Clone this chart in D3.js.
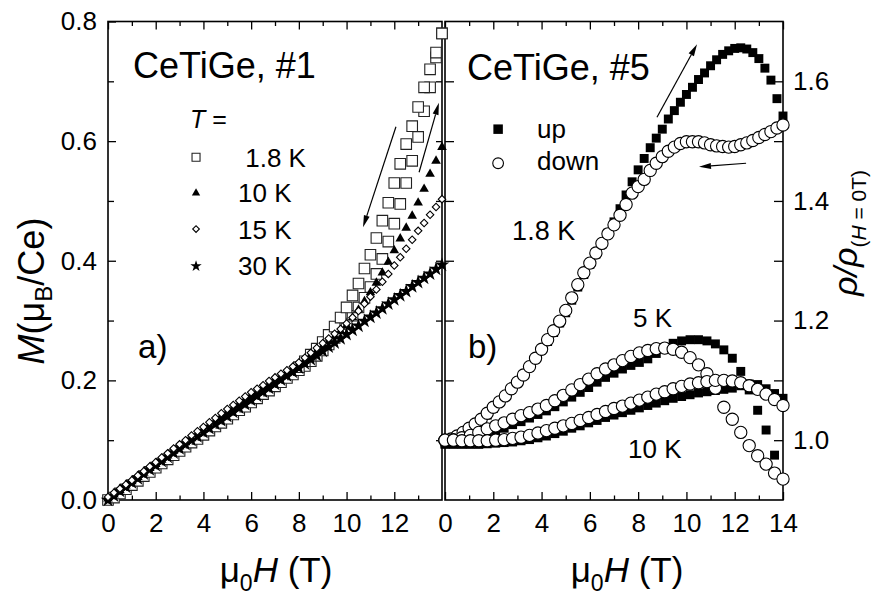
<!DOCTYPE html>
<html>
<head>
<meta charset="utf-8">
<script src="https://cdn.jsdelivr.net/npm/d3@7"></script>
<style>
  body { margin: 0; background: #fff; }
  text { font-family: "Liberation Sans", Arial, sans-serif; fill: #000; }
</style>
</head>
<body>
<div id="chart"></div>
<script>
// ---- data ----
// panel a) magnetisation M (muB/Ce) vs field (T), measured every 0.25 T
var fieldA = d3.range(0, 14.001, 0.25);
var fieldA18down = d3.range(8, 14.001, 0.25);
var m18up = [0.000,0.004,0.011,0.018, 0.025,0.032,0.040,0.047, 0.054,0.061,0.068,0.075,
  0.082,0.089,0.096,0.102, 0.109,0.116,0.123,0.129, 0.136,0.143,0.150,0.156,
  0.163,0.170,0.177,0.183, 0.190,0.197,0.204,0.210, 0.217,0.224,0.232,0.241,
  0.250,0.260,0.271,0.283, 0.295,0.308,0.322,0.338, 0.356,0.378,0.403,0.432,
  0.462,0.495,0.530,0.567, 0.607,0.650,0.690,0.740, 0.780];
var m18down = [0.222,0.232,0.243,0.253, 0.264,0.276,0.290,0.305, 0.322,0.342,0.362,0.387,
  0.410,0.438,0.467,0.497, 0.530,0.562,0.595,0.625, 0.657,0.690,0.720,0.748, 0.780];
var m10 = [0.002,0.009,0.016,0.024, 0.031,0.038,0.045,0.053, 0.060,0.067,0.074,0.082,
  0.089,0.096,0.103,0.111, 0.118,0.125,0.132,0.140, 0.147,0.154,0.161,0.168,
  0.175,0.181,0.188,0.194, 0.201,0.207,0.214,0.220, 0.227,0.234,0.242,0.249,
  0.257,0.265,0.273,0.282, 0.292,0.305,0.318,0.332, 0.347,0.363,0.380,0.398,
  0.417,0.437,0.455,0.475, 0.497,0.520,0.545,0.567, 0.590];
var m15 = [0.005,0.012,0.019,0.026, 0.033,0.041,0.048,0.056, 0.063,0.071,0.078,0.086,
  0.093,0.100,0.108,0.115, 0.122,0.130,0.137,0.145, 0.152,0.159,0.166,0.173,
  0.180,0.186,0.192,0.199, 0.205,0.211,0.217,0.223, 0.230,0.238,0.246,0.254,
  0.262,0.270,0.278,0.286, 0.295,0.305,0.316,0.328, 0.340,0.352,0.365,0.378,
  0.392,0.406,0.420,0.435, 0.450,0.463,0.477,0.490, 0.503];
var m30 = [0.000,0.007,0.015,0.022, 0.029,0.036,0.044,0.051, 0.058,0.065,0.072,0.079,
  0.086,0.093,0.100,0.106, 0.113,0.120,0.127,0.133, 0.140,0.147,0.154,0.160,
  0.167,0.174,0.181,0.187, 0.194,0.201,0.208,0.214, 0.221,0.228,0.235,0.242,
  0.249,0.256,0.263,0.270, 0.277,0.284,0.291,0.299, 0.306,0.313,0.320,0.328,
  0.335,0.342,0.349,0.357, 0.364,0.371,0.378,0.386, 0.393];

// panel b) rho / rho(H=0), 1.8 K every 0.25 T, 5 K and 10 K every 0.35 T
var fieldB18 = d3.range(0, 14.001, 0.25);
var fieldB = d3.range(0, 14.001, 0.35);
var r18up = [0.998,1.000,1.005,1.011, 1.018,1.026,1.033,1.042, 1.053,1.063,1.073,1.085,
  1.096,1.109,1.122,1.136, 1.151,1.165,1.180,1.196, 1.213,1.234,1.256,1.277,
  1.294,1.311,1.328,1.346, 1.365,1.387,1.410,1.432, 1.452,1.471,1.489,1.505,
  1.520,1.537,1.551,1.565, 1.578,1.590,1.603,1.614, 1.626,1.636,1.645,1.651,
  1.655,1.656,1.654,1.648, 1.638,1.622,1.602,1.571, 1.542];
var r18down = [1.000,1.002,1.007,1.013, 1.020,1.027,1.035,1.045, 1.055,1.064,1.074,1.086,
  1.097,1.109,1.123,1.137, 1.152,1.168,1.183,1.199, 1.217,1.238,1.260,1.280,
  1.296,1.313,1.329,1.345, 1.360,1.376,1.394,1.413, 1.424,1.436,1.451,1.463,
  1.474,1.483,1.490,1.496, 1.499,1.499,1.499,1.497, 1.494,1.492,1.491,1.490,
  1.491,1.494,1.497,1.501, 1.506,1.511,1.516,1.522, 1.527];
var r5up = [0.995,0.996,0.998,1.001,1.005,1.010,1.015,1.020,1.026,1.031,
  1.037,1.043,1.049,1.056,1.064,1.072,1.080,1.088,1.097,1.105,
  1.112,1.119,1.125,1.130,1.136,1.145,1.155,1.162,1.166,1.168,
  1.168,1.166,1.161,1.151,1.137,1.115,1.084,1.050,1.017,0.975];
var r5down = [1.000,1.001,1.004,1.008,1.013,1.019,1.024,1.029,1.035,1.041,
  1.046,1.052,1.058,1.066,1.075,1.084,1.093,1.102,1.111,1.119,
  1.126,1.133,1.140,1.146,1.150,1.153,1.154,1.152,1.147,1.138,
  1.126,1.111,1.087,1.055,1.035,1.013,0.991,0.974,0.960,0.945, 0.935];
var r10up = [0.993,0.993,0.993,0.993,0.993,0.994,0.995,0.996,0.997,0.999,
  1.001,1.004,1.007,1.011,1.015,1.020,1.024,1.029,1.033,1.038,
  1.042,1.046,1.050,1.054,1.058,1.062,1.066,1.070,1.073,1.076,
  1.079,1.081,1.083,1.085,1.087,1.091,1.094,1.093,1.086,1.078, 1.070];
var r10down = [1.000,1.000,0.999,0.999,0.999,0.999,1.000,1.001,1.003,1.005,
  1.008,1.012,1.016,1.020,1.024,1.028,1.033,1.038,1.043,1.048,
  1.053,1.057,1.062,1.067,1.072,1.077,1.081,1.086,1.090,1.094,
  1.096,1.098,1.100,1.100,1.099,1.096,1.091,1.085,1.077,1.068, 1.058];

var legendA = ["\u00a01.8 K", "10 K", "15 K", "30 K"];
var xTicksA = [0, 2, 4, 6, 8, 10, 12];
var xTicksB = [0, 2, 4, 6, 8, 10, 12, 14];
var yTicksA = [0, 0.2, 0.4, 0.6, 0.8];
var yTicksB = [1.0, 1.2, 1.4, 1.6];

// ---- drawing ----
var svg = d3.select("#chart").append("svg")
  .attr("width", 874).attr("height", 596)
  .style("background", "#fff");

var xA = d3.scaleLinear().domain([0, 14]).range([108, 442]);
var yA = d3.scaleLinear().domain([0, 0.8]).range([500, 21.5]);
var xB = d3.scaleLinear().domain([0, 14]).range([445, 783]);
var yB = d3.scaleLinear().domain([0.9, 1.7]).range([500, 21.5]);

var FONT = "'Liberation Sans', Arial, sans-serif";
var blank = function() { return ""; };

function addAxis(maker, scale, pos, values, size, fmt, pad) {
  var ax = maker(scale).tickValues(values).tickSizeInner(size).tickSizeOuter(0)
    .tickPadding(pad || 0).tickFormat(fmt || blank);
  var g = svg.append("g").attr("transform", pos).call(ax)
    .attr("font-family", FONT).attr("font-size", 26);
  g.select(".domain").remove();
  g.selectAll("line").attr("stroke", "#000").attr("stroke-width", 1.3);
  g.selectAll("text").attr("fill", "#000");
  return g;
}

var odd = [1, 3, 5, 7, 9, 11, 13];
var f1 = d3.format(".1f");
var nf = function(d) { return d; };

// panel a axes
addAxis(d3.axisBottom, xA, "translate(0,500)", xTicksA, -8, nf, 14);
addAxis(d3.axisBottom, xA, "translate(0,500)", odd, -4.5);
addAxis(d3.axisTop, xA, "translate(0,21.5)", xTicksA, -8);
addAxis(d3.axisTop, xA, "translate(0,21.5)", odd, -4.5);
addAxis(d3.axisLeft, yA, "translate(108,0)", yTicksA, -8, f1, 11);
addAxis(d3.axisLeft, yA, "translate(108,0)", [0.1, 0.3, 0.5, 0.7], -6);
addAxis(d3.axisRight, yA, "translate(442,0)", [0.1, 0.2, 0.3, 0.4, 0.5, 0.6, 0.7], -6);

// panel b axes
addAxis(d3.axisBottom, xB, "translate(0,500)", xTicksB, -8, nf, 14);
addAxis(d3.axisBottom, xB, "translate(0,500)", odd, -4.5);
addAxis(d3.axisTop, xB, "translate(0,21.5)", xTicksB, -8);
addAxis(d3.axisTop, xB, "translate(0,21.5)", odd, -4.5);
addAxis(d3.axisRight, yB, "translate(783,0)", yTicksB, -9, f1, 10);
addAxis(d3.axisRight, yB, "translate(783,0)", [1.1, 1.3, 1.5], -9);
addAxis(d3.axisLeft, yB, "translate(445,0)", [1.0, 1.1, 1.2, 1.3, 1.4, 1.5, 1.6], -9);

// frames
[[xA, yA], [xB, yB]].forEach(function(s) {
  svg.append("rect")
    .attr("x", s[0].range()[0]).attr("y", s[1].range()[1])
    .attr("width", s[0].range()[1] - s[0].range()[0])
    .attr("height", s[1].range()[0] - s[1].range()[1])
    .attr("fill", "none").attr("stroke", "#000").attr("stroke-width", 1.6);
});

// symbols
var sym = {
  openSquare: d3.symbol().type(d3.symbolSquare).size(112)(),
  smallSquare: d3.symbol().type(d3.symbolSquare).size(64)(),
  filledSquare: d3.symbol().type(d3.symbolSquare).size(80)(),
  triangle: d3.symbol().type(d3.symbolTriangle).size(40)(),
  diamond: d3.symbol().type(d3.symbolSquare).size(28)(),
  star: d3.symbol().type(d3.symbolStar).size(66)(),
  circle: d3.symbol().type(d3.symbolCircle).size(118)()
};

function points(xs, ys, xScale, yScale, shape, fill, stroke, rot) {
  var pts = xs.map(function(x, i) { return [x, ys[i]]; });
  svg.append("g").selectAll("path").data(pts).enter().append("path")
    .attr("d", shape)
    .attr("transform", function(d) {
      return "translate(" + xScale(d[0]) + "," + yScale(d[1]) + ")" + (rot ? " rotate(45)" : "");
    })
    .attr("fill", fill)
    .attr("stroke", stroke || "none")
    .attr("stroke-width", stroke ? 1.1 : 0);
}

// panel a markers
points(fieldA, m18up, xA, yA, sym.openSquare, "#fff", "#222");
points(fieldA18down, m18down, xA, yA, sym.openSquare, "#fff", "#222");
points(fieldA, m30, xA, yA, sym.star, "#000");
points(fieldA, m10, xA, yA, sym.triangle, "#000");
points(fieldA, m15, xA, yA, sym.diamond, "#fff", "#000", true);

// panel b markers: filled squares (up) under open circles (down)
points(fieldB18, r18up, xB, yB, sym.filledSquare, "#000");
points(fieldB.slice(0, r5up.length), r5up, xB, yB, sym.filledSquare, "#000");
points(fieldB, r10up, xB, yB, sym.filledSquare, "#000");
points(fieldB18, r18down, xB, yB, sym.circle, "#fff", "#000");
points(fieldB, r5down, xB, yB, sym.circle, "#fff", "#000");
points(fieldB, r10down, xB, yB, sym.circle, "#fff", "#000");

// arrows (data coordinates)
function arrow(xs, ys, x1, y1, x2, y2) {
  var a = [xs(x1), ys(y1)], b = [xs(x2), ys(y2)];
  var dx = b[0] - a[0], dy = b[1] - a[1], len = Math.sqrt(dx * dx + dy * dy);
  var ux = dx / len, uy = dy / len, hl = 12, hw = 3;
  var bx = b[0] - ux * hl, by = b[1] - uy * hl;
  svg.append("line").attr("x1", a[0]).attr("y1", a[1]).attr("x2", bx).attr("y2", by)
    .attr("stroke", "#000").attr("stroke-width", 1.2);
  svg.append("path")
    .attr("d", "M" + b[0] + "," + b[1] + "L" + (bx - uy * hw) + "," + (by + ux * hw) +
      "L" + (bx + uy * hw) + "," + (by - ux * hw) + "Z")
    .attr("fill", "#000");
}
arrow(xA, yA, 12.07, 0.624, 10.69, 0.456);
arrow(xA, yA, 13.04, 0.548, 13.87, 0.664);
arrow(xB, yB, 8.78, 1.540, 10.44, 1.662);
arrow(xB, yB, 12.47, 1.463, 10.52, 1.457);

// text helpers
function label(x, y, str, size) {
  return svg.append("text").attr("x", x).attr("y", y).attr("font-size", size)
    .style("white-space", "pre").text(str);
}

// panel a annotations
label(xA(1.05), yA(0.705), "CeTiGe, #1", 36);
var tl = svg.append("text").attr("x", xA(3.44)).attr("y", yA(0.622)).attr("font-size", 25);
tl.append("tspan").attr("font-style", "italic").text("T");
tl.append("tspan").text(" =");
var legSym = [
  [sym.smallSquare, "#fff", "#222", false],
  [d3.symbol().type(d3.symbolTriangle).size(30)(), "#000", null, false],
  [d3.symbol().type(d3.symbolSquare).size(22)(), "#fff", "#000", true],
  [d3.symbol().type(d3.symbolStar).size(40)(), "#000", null, false]
];
var legSymM = [0.573, 0.513, 0.453, 0.391];
var legTxtM = [0.557, 0.498, 0.436, 0.376];
legendA.forEach(function(t, i) {
  svg.append("path").attr("d", legSym[i][0])
    .attr("transform", "translate(" + xA(3.69) + "," + yA(legSymM[i]) + ")" + (legSym[i][3] ? " rotate(45)" : ""))
    .attr("fill", legSym[i][1]).attr("stroke", legSym[i][2] || "none").attr("stroke-width", 1.1);
  label(xA(5.45), yA(legTxtM[i]), t, 26);
});
label(xA(1.26), yA(0.237), "a)", 33);

// panel b annotations
label(xB(0.91), yB(1.602), "CeTiGe, #5", 36);
svg.append("path").attr("d", d3.symbol().type(d3.symbolSquare).size(90)())
  .attr("transform", "translate(" + xB(2.2) + "," + yB(1.520) + ")").attr("fill", "#000");
svg.append("path").attr("d", d3.symbol().type(d3.symbolCircle).size(90)())
  .attr("transform", "translate(" + xB(2.2) + "," + yB(1.463) + ")")
  .attr("fill", "#fff").attr("stroke", "#000").attr("stroke-width", 1.1);
label(xB(3.81), yB(1.505), "up", 26);
label(xB(3.81), yB(1.452), "down", 26);
label(xB(2.78), yB(1.335), "1.8 K", 27);
label(xB(7.79), yB(1.189), "5 K", 26);
label(xB(0.95), yB(1.137), "b)", 33);
label(xB(7.58), yB(0.970), "10 K", 26);

// axis titles
function fieldTitle(cx) {
  var t = svg.append("text").attr("x", cx).attr("y", 582).attr("font-size", 35)
    .attr("text-anchor", "middle");
  t.append("tspan").text("\u03bc");
  t.append("tspan").attr("font-size", 23).attr("dy", 9).text("0");
  t.append("tspan").attr("font-style", "italic").attr("dy", -9).text("H");
  t.append("tspan").text(" (T)");
}
fieldTitle(276);
fieldTitle(627);

var ml = svg.append("text").attr("transform", "translate(44,291) rotate(-90)")
  .attr("font-size", 36).attr("text-anchor", "middle");
ml.append("tspan").attr("font-style", "italic").text("M");
ml.append("tspan").text("(\u03bc");
ml.append("tspan").attr("font-size", 24).attr("dy", 8).text("B");
ml.append("tspan").attr("dy", -8).text("/Ce)");

var rl = svg.append("text").attr("transform", "translate(857,233) rotate(-90)")
  .attr("font-size", 34).attr("text-anchor", "middle");
rl.append("tspan").attr("font-style", "italic").text("\u03c1/\u03c1");
rl.append("tspan").attr("font-size", 21).attr("dy", 9).text("(");
rl.append("tspan").attr("font-size", 21).attr("font-style", "italic").text("H");
rl.append("tspan").attr("font-size", 21).text(" = 0T)");
</script>
</body>
</html>
